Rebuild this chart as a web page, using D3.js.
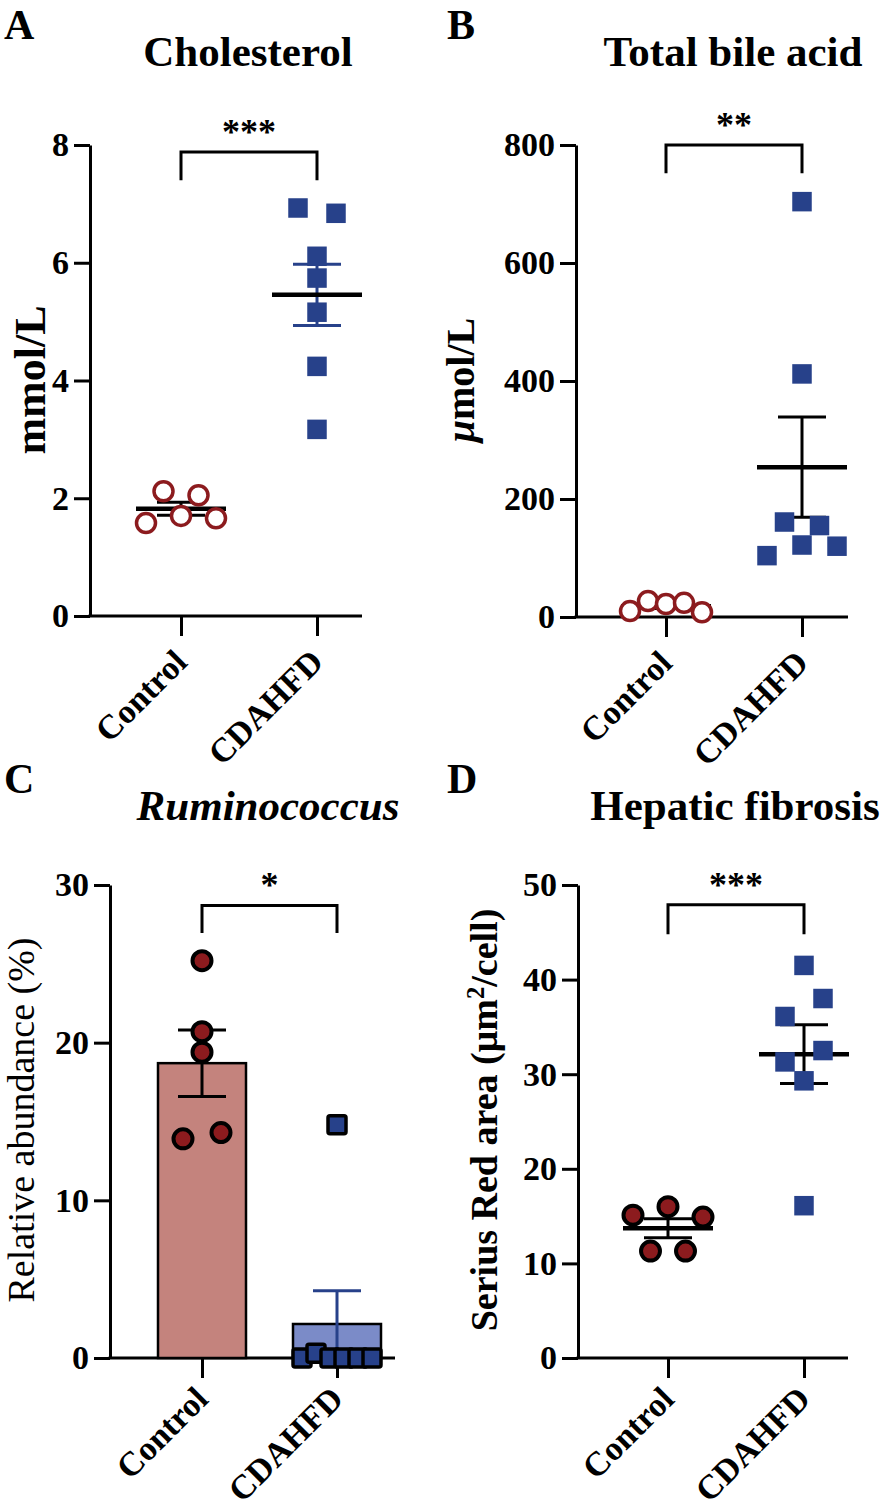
<!DOCTYPE html>
<html lang="en">
<head>
<meta charset="utf-8">
<title>CDAHFD panels</title>
<script src="https://d3js.org/d3.v7.min.js"></script>
<style>
  body { margin: 0; background: #fff; }
  text { font-family: "Liberation Serif", "Times New Roman", serif; }
</style>
</head>
<body>
<script>

// groups on every x axis
var groups = ["Control", "CDAHFD"];

// A  cholesterol, mmol/L
var cholControl = [1.58, 2.12, 1.70, 2.05, 1.66];
var cholCdahfd = [6.93, 6.84, 6.11, 5.74, 5.16, 4.24, 3.17];
var cholTicks = [0, 2, 4, 6, 8];

// B  total bile acid, umol/L
var tbaControl = [10, 27, 22, 24, 8];
var tbaCdahfd = [704, 412, 161, 155, 122, 120, 104];
var tbaTicks = [0, 200, 400, 600, 800];

// C  Ruminococcus relative abundance, %
var rumControl = [25.2, 20.7, 19.4, 13.9, 14.3];
var rumCdahfd = [14.8, 0, 0.3, 0, 0, 0, 0];
var rumTicks = [0, 10, 20, 30];

// D  Serius red area, um2/cell
var fibControl = [15.1, 16.0, 14.9, 11.3, 11.3];
var fibCdahfd = [41.5, 38.0, 36.1, 32.5, 31.3, 29.3, 16.1];
var fibTicks = [0, 10, 20, 30, 40, 50];

// significance marks
var sigLabels = ["***", "**", "*", "***"];

// scatter spread of the dots (in symbol widths)
var cholSpread = [[-2, -1, 0, 1, 2], [-1, 1, 0, 0, 0, 0, 0]];
var tbaSpread = [[-2, -1, 0, 1, 2], [0, 0, -1, 1, 0, 2, -2]];
var rumSpread = [[0, 0, 0, -1, 1], [0, -2, -1.2, -0.4, 0.4, 1.2, 2]];
var fibSpread = [[-2, 0, 2, -1, 1], [0, 1, -1, 1, -1, 0, 0]];

var red = "#8c1b1e";
var blue = "#27418a";
var redBar = "#c4837d";
var blueBar = "#7b8bc8";

var w = 894, h = 1510;
var svg = d3.select("body").append("svg").attr("width", w).attr("height", h);
svg.append("rect").attr("width", w).attr("height", h).attr("fill", "white");

function sem(v) { return d3.deviation(v) / Math.sqrt(v.length); }

function panel(p) {
  var g = svg.append("g");
  var y = d3.scaleLinear().domain([0, p.ticks[p.ticks.length - 1]]).range([p.bottom, p.top]);
  var x = d3.scalePoint().domain(groups).range(p.xr);

  // y axis
  var ya = g.append("g").attr("transform", "translate(" + p.left + ",0)")
    .call(d3.axisLeft(y).tickValues(p.ticks).tickSize(16).tickSizeOuter(0).tickPadding(5).tickFormat(d3.format("d")));
  ya.selectAll("path, line").attr("stroke", "black").attr("stroke-width", 3);
  ya.selectAll("text").attr("font-size", 34).attr("font-weight", "bold").attr("fill", "black")
    .attr("font-family", "Liberation Serif");

  // x axis
  var xa = g.append("g").attr("transform", "translate(0," + p.bottom + ")")
    .call(d3.axisBottom(x).tickSize(20).tickSizeOuter(0));
  xa.select(".domain").remove();
  xa.selectAll("line").attr("stroke", "black").attr("stroke-width", 3);
  xa.selectAll("text").remove();
  g.append("line").attr("x1", p.left - 1.5).attr("x2", p.right).attr("y1", p.bottom).attr("y2", p.bottom)
    .attr("stroke", "black").attr("stroke-width", 3);
  g.selectAll("text.xl").data(groups).join("text").attr("class", "xl")
    .attr("transform", function(d) { return "translate(" + (x(d) + 8) + "," + (p.bottom + p.xlabDy) + ") rotate(-45)"; })
    .attr("text-anchor", "end").attr("font-size", 34).attr("font-weight", "bold").text(function(d) { return d; });

  var sets = [p.control, p.cdahfd];

  // bars (panel C)
  if (p.bars) {
    g.selectAll("rect.bar").data(sets).join("rect").attr("class", "bar")
      .attr("x", function(d, i) { return x(groups[i]) - 44; })
      .attr("width", 88)
      .attr("y", function(d) { return y(d3.mean(d)); })
      .attr("height", function(d) { return p.bottom - y(d3.mean(d)); })
      .attr("fill", function(d, i) { return i ? blueBar : redBar; })
      .attr("stroke", "black").attr("stroke-width", 2.5);
  }

  // mean and sem
  sets.forEach(function(v, i) {
    var cx = x(groups[i]), m = d3.mean(v), s = sem(v);
    var col = p.errColor[i];
    g.append("line").attr("x1", cx).attr("x2", cx).attr("y1", y(m + s)).attr("y2", y(Math.max(0, m - s)))
      .attr("stroke", col).attr("stroke-width", 3);
    [m + s, m - s].forEach(function(e) {
      if (e < 0) return;
      g.append("line").attr("x1", cx - 24).attr("x2", cx + 24).attr("y1", y(e)).attr("y2", y(e))
        .attr("stroke", col).attr("stroke-width", 3);
    });
    if (!p.bars) {
      g.append("line").attr("x1", cx - 45).attr("x2", cx + 45).attr("y1", y(m)).attr("y2", y(m))
        .attr("stroke", "black").attr("stroke-width", 4.5);
    }
  });

  // control dots
  g.selectAll("circle.ctl").data(p.control).join("circle").attr("class", "ctl")
    .attr("cx", function(d, i) { return x(groups[0]) + p.spread[0][i] * p.unit[0]; })
    .attr("cy", function(d) { return y(d); })
    .attr("r", 9.5)
    .attr("fill", p.hollow ? "white" : red)
    .attr("stroke", p.hollow ? red : "black")
    .attr("stroke-width", p.hollow ? 3.5 : 4);

  // CDAHFD squares
  var sq = p.outlined ? 18 : 19.5;
  g.selectAll("rect.cd").data(p.cdahfd).join("rect").attr("class", "cd")
    .attr("x", function(d, i) { return x(groups[1]) + p.spread[1][i] * p.unit[1] - sq / 2; })
    .attr("y", function(d) { return y(d) - sq / 2; })
    .attr("width", sq).attr("height", sq)
    .attr("rx", p.outlined ? 2 : 0)
    .attr("fill", blue)
    .attr("stroke", p.outlined ? "black" : "none")
    .attr("stroke-width", 3.5);

  // significance bracket
  var bt = y(p.bracket[0]), bl = y(p.bracket[1]);
  g.append("path")
    .attr("d", "M" + x(groups[0]) + "," + bl + "V" + bt + "H" + x(groups[1]) + "V" + bl)
    .attr("fill", "none").attr("stroke", "black").attr("stroke-width", 3);
  g.append("text").attr("x", (x(groups[0]) + x(groups[1])) / 2).attr("y", bt - 8)
    .attr("text-anchor", "middle").attr("font-size", 36).attr("font-weight", "bold").text(p.sig);

  // title and panel letter
  g.append("text").attr("x", p.titleX).attr("y", p.titleY).attr("text-anchor", "middle")
    .attr("font-size", 43).attr("font-weight", "bold").attr("font-style", p.italic ? "italic" : "normal")
    .text(p.title);
  g.append("text").attr("x", p.letterX).attr("y", p.titleY - 27).attr("font-size", 42)
    .attr("font-weight", "bold").text(p.letter);

  // y label
  var yl = g.append("text").attr("transform", "translate(" + p.ylabX + "," + p.ylabY + ") rotate(-90)")
    .attr("text-anchor", "middle").attr("font-size", p.ylabSize)
    .attr("font-weight", p.ylabBold ? "bold" : "normal");
  p.ylab.forEach(function(t) {
    var ts = yl.append("tspan").text(t.s);
    if (t.it) ts.attr("font-style", "italic");
    if (t.sup) ts.attr("baseline-shift", "super").attr("font-size", p.ylabSize * 0.65);
  });
}

panel({ letter: "A", title: "Cholesterol", titleX: 248, titleY: 66, letterX: 4,
  control: cholControl, cdahfd: cholCdahfd, ticks: cholTicks, spread: cholSpread, unit: [17.5, 19],
  left: 90, right: 362, top: 145, bottom: 616, xr: [181, 317], hollow: true, xlabDy: 48,
  errColor: ["black", blue], bracket: [7.88, 7.4], sig: sigLabels[0],
  ylab: [{ s: "mmol/L" }], ylabX: 45, ylabY: 380, ylabSize: 44, ylabBold: true });

panel({ letter: "B", title: "Total bile acid", titleX: 733, titleY: 66, letterX: 447,
  control: tbaControl, cdahfd: tbaCdahfd, ticks: tbaTicks, spread: tbaSpread, unit: [18, 17.5],
  left: 576, right: 848, top: 145, bottom: 617, xr: [666, 802], hollow: true, xlabDy: 48,
  errColor: ["black", "black"], bracket: [800, 752], sig: sigLabels[1],
  ylab: [{ s: "\u03bc", it: true }, { s: "mol/L" }], ylabX: 474, ylabY: 380, ylabSize: 40, ylabBold: true });

panel({ letter: "C", title: "Ruminococcus", titleX: 268, titleY: 820, letterX: 4, italic: true,
  control: rumControl, cdahfd: rumCdahfd, ticks: rumTicks, spread: rumSpread, unit: [19, 17.5],
  left: 110, right: 395, top: 885, bottom: 1358, xr: [202, 337], bars: true, outlined: true, xlabDy: 43,
  errColor: ["black", blue], bracket: [28.7, 26.95], sig: sigLabels[2],
  ylab: [{ s: "Relative abundance (%)" }], ylabX: 34, ylabY: 1120, ylabSize: 38, ylabBold: false });

panel({ letter: "D", title: "Hepatic fibrosis", titleX: 735, titleY: 820, letterX: 447,
  control: fibControl, cdahfd: fibCdahfd, ticks: fibTicks, spread: fibSpread, unit: [17.5, 19],
  left: 578, right: 848, top: 885, bottom: 1358, xr: [668, 804], xlabDy: 43,
  errColor: ["black", "black"], bracket: [47.9, 44.8], sig: sigLabels[3],
  ylab: [{ s: "Serius Red area (\u03bcm" }, { s: "2", sup: true }, { s: "/cell)" }],
  ylabX: 497, ylabY: 1120, ylabSize: 38, ylabBold: true });

</script>
</body>
</html>
